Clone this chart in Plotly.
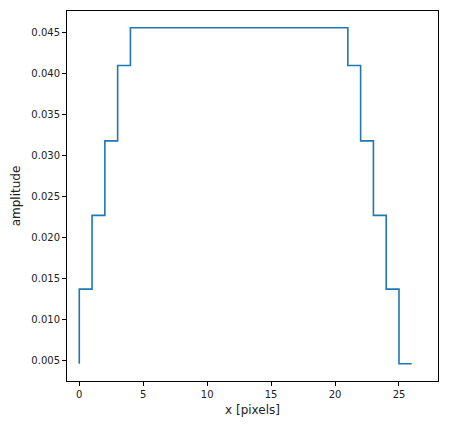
import plotly.graph_objects as go

# kernel profile (step drawn "pre" style)
x_pixels = list(range(27))
amplitude = [0.0046, 0.0137, 0.0227, 0.0318, 0.0410,
             0.0456, 0.0456, 0.0456, 0.0456, 0.0456, 0.0456, 0.0456,
             0.0456, 0.0456, 0.0456, 0.0456, 0.0456, 0.0456, 0.0456,
             0.0456, 0.0456, 0.0456,
             0.0410, 0.0318, 0.0227, 0.0137, 0.0046]

x_ticks = [0, 5, 10, 15, 20, 25]
y_ticks = [0.005, 0.010, 0.015, 0.020, 0.025, 0.030, 0.035, 0.040, 0.045]

fig = go.Figure()
fig.add_trace(go.Scatter(
    x=x_pixels, y=amplitude,
    mode="lines",
    line=dict(color="#1f77b4", width=1.6, shape="vh"),
    showlegend=False,
))

axis_style = dict(
    showline=True, linecolor="black", linewidth=1, mirror=True,
    showgrid=False, zeroline=False, automargin=False,
    ticks="outside", ticklen=4, tickwidth=1, tickcolor="black",
    tickfont=dict(family="DejaVu Sans", size=10, color="#222222"),
)

fig.update_xaxes(
    range=[-0.96, 28.05],
    tickvals=x_ticks,
    title=dict(text="x [pixels]", font=dict(family="DejaVu Sans", size=12, color="#222222"), standoff=6),
    **axis_style,
)
fig.update_yaxes(
    range=[0.00249, 0.04765],
    tickvals=y_ticks,
    tickformat=".3f",
    title=dict(text="amplitude", font=dict(family="DejaVu Sans", size=12, color="#222222"), standoff=8),
    **axis_style,
)

# page body has an 8px margin, so the figure is a bit smaller and shifted
fig.update_layout(
    width=441, height=417,
    paper_bgcolor="white",
    plot_bgcolor="white",
    margin=dict(l=59, r=11, t=3, b=44),
    font=dict(family="DejaVu Sans"),
)

fig.write_html("out.html")
